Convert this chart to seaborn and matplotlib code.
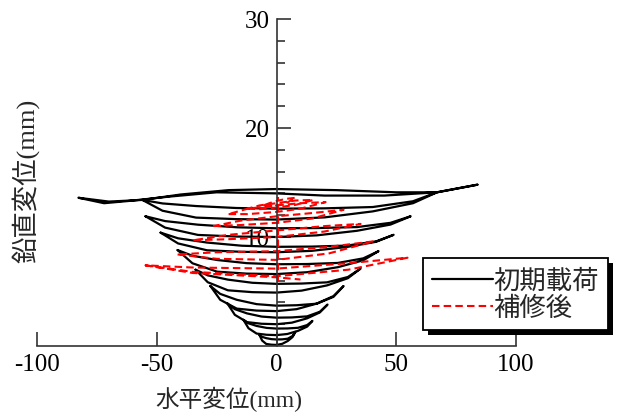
import pandas as pd
import matplotlib
matplotlib.use("Agg")
import matplotlib.pyplot as plt
from matplotlib.lines import Line2D
from matplotlib.patches import Rectangle
from matplotlib.transforms import IdentityTransform
from matplotlib.ticker import FixedLocator
import seaborn as sns

series_names = ["初期載荷", "補修後"]

# 初期載荷: one closed loop per loading cycle (horizontal / vertical displacement, mm)
initial_x = [
    [-7.1, -6.0, -4.3, -2.1, 0, 2.4, 4.7, 6.7, 7.9, 6.7, 4.7, 2.4, 0, -2.1, -4.3, -6.0, -7.1],
    [-13.8, -11.7, -8.3, -4.1, 0, 4.5, 9.0, 12.8, 15.0, 12.8, 9.0, 4.5, 0, -4.1, -8.3, -11.7, -13.8],
    [-20.5, -17.4, -12.3, -6.2, 0, 6.4, 12.8, 18.1, 21.3, 18.1, 12.8, 6.4, 0, -6.2, -12.3, -17.4, -20.5],
    [-27.6, -23.5, -16.6, -8.3, 0, 8.4, 16.8, 23.8, 28.0, 23.8, 16.8, 8.4, 0, -8.3, -16.6, -23.5, -27.6],
    [-33.8, -28.7, -20.3, -10.1, 0, 10.5, 21.1, 29.8, 35.1, 29.8, 21.1, 10.5, 0, -10.1, -20.3, -28.7, -33.8],
    [-41.3, -35.1, -24.8, -12.4, 0, 12.8, 25.6, 36.2, 42.6, 36.2, 25.6, 12.8, 0, -12.4, -24.8, -35.1, -41.3],
    [-48.4, -41.1, -29.0, -14.5, 0, 14.7, 29.3, 41.6, 48.9, 41.6, 29.3, 14.7, 0, -14.5, -29.0, -41.1, -48.4],
    [-54.7, -46.5, -32.8, -16.4, 0, 16.8, 33.6, 47.6, 56.0, 47.6, 33.6, 16.8, 0, -16.4, -32.8, -46.5, -54.7],
    [-56.0, -47.6, -33.6, -16.8, 0, 20.1, 40.2, 57.0, 67.0, 57.0, 40.2, 20.1, 0, -16.8, -33.6, -47.6, -56.0],
    [-56.0, -40.0, -20.0, 0, 25.0, 50.0, 67.0, 83.9, 67.0, 45.0, 20.0, 0, -25.0,
     -45.0, -62.0, -72.0, -82.7, -70.0, -56.0],
]
initial_y = [
    [1.0, 0.5, 0.19, 0.12, 0.1, 0.2, 0.46, 0.82, 1.3, 0.92, 0.67, 0.61, 0.6, 0.63, 0.72, 0.84, 1.0],
    [2.4, 1.63, 1.14, 1.03, 1.0, 1.1, 1.39, 1.78, 2.3, 1.92, 1.67, 1.61, 1.6, 1.66, 1.84, 2.08, 2.4],
    [3.9, 2.86, 2.19, 2.04, 2.0, 2.14, 2.54, 3.08, 3.8, 3.14, 2.72, 2.62, 2.6, 2.7, 2.99, 3.38, 3.9],
    [5.5, 4.24, 3.43, 3.25, 3.2, 3.38, 3.89, 4.58, 5.5, 4.51, 3.88, 3.74, 3.7, 3.84, 4.24, 4.78, 5.5],
    [7.0, 5.85, 5.11, 4.94, 4.9, 5.08, 5.56, 6.22, 7.1, 6.33, 5.84, 5.73, 5.7, 5.8, 6.09, 6.48, 7.0],
    [8.8, 7.59, 6.82, 6.64, 6.6, 6.77, 7.23, 7.86, 8.7, 8.04, 7.62, 7.52, 7.5, 7.6, 7.89, 8.28, 8.8],
    [10.4, 9.41, 8.78, 8.64, 8.6, 8.73, 9.08, 9.56, 10.2, 9.6, 9.21, 9.12, 9.1, 9.2, 9.49, 9.88, 10.4],
    [11.9, 10.86, 10.19, 10.04, 10.0, 10.15, 10.57, 11.14, 11.9, 11.3, 10.91, 10.82, 10.8, 10.89, 11.13, 11.46, 11.9],
    [13.4, 12.41, 11.78, 11.64, 11.6, 11.8, 12.35, 13.1, 14.1, 13.28, 12.75, 12.63, 12.6, 12.66, 12.84, 13.08, 13.4],
    [13.4, 13.9, 14.3, 14.4, 14.3, 14.1, 14.1, 14.8, 14.1, 13.8, 13.8, 14.0, 14.1,
     13.7, 13.3, 13.1, 13.6, 13.25, 13.4],
]

# 補修後: loops after repair, smallest first, plus the vertical leg at the centre
repair_x = [
    [0.5, 0.5],
    [-5.4, -3.0, 0, 4.0, 8.0, 4.0, 0, -3.0, -5.4],
    [-12.1, -7.0, 0, 8.0, 15.4, 8.0, 0, -7.0, -12.1],
    [-20.0, -12.0, 0, 10.0, 20.5, 10.0, 0, -12.0, -20.0],
    [-26.3, -15.0, 0, 15.0, 28.0, 15.0, 0, -15.0, -26.3],
    [-34.7, -20.0, 0, 20.0, 35.1, 20.0, 0, -20.0, -34.7],
    [-41.3, -25.0, 0, 22.0, 40.5, 22.0, 0, -25.0, -41.3],
    [-54.7, -35.0, 0, 30.0, 54.7, 30.0, 0, -35.0, -54.7, -35.0, 0, 10.0],
]
repair_y = [
    [5.9, 13.7],
    [12.9, 12.8, 12.9, 13.1, 13.6, 13.5, 13.3, 13.1, 12.9],
    [12.6, 12.55, 12.7, 12.95, 13.4, 13.35, 13.1, 12.9, 12.6],
    [12.1, 12.1, 12.3, 12.6, 13.2, 13.1, 12.9, 12.6, 12.1],
    [11.0, 11.1, 11.3, 11.7, 12.5, 12.2, 11.9, 11.5, 11.0],
    [9.7, 9.8, 10.0, 10.5, 11.2, 11.0, 10.6, 10.2, 9.7],
    [8.4, 8.0, 7.9, 8.5, 9.6, 9.1, 8.7, 8.6, 8.4],
    [7.4, 6.8, 6.4, 7.0, 8.1, 7.6, 7.1, 7.2, 7.4, 6.7, 6.3, 6.1],
]

x_ticks = [-100, -50, 0, 50, 100]
y_ticks = [10, 20, 30]


def to_frame(xs, ys):
    rows = []
    for cyc, (cx, cy) in enumerate(zip(xs, ys)):
        for px, py in zip(cx, cy):
            rows.append({"x": px, "y": py, "cycle": cyc})
    return pd.DataFrame(rows)


df_initial = to_frame(initial_x, initial_y)
df_repair = to_frame(repair_x, repair_y)

sns.set_theme(style="ticks")
plt.rcParams["font.family"] = ["Liberation Serif", "Noto Sans CJK JP"]
plt.rcParams["axes.unicode_minus"] = False

W, H = 627, 414
fig = plt.figure(figsize=(W / 100, H / 100), dpi=100)
ax = fig.add_axes([37 / W, 1 - 347 / H, (516 - 37) / W, (347 - 20) / H])

sns.lineplot(data=df_initial, x="x", y="y", units="cycle", estimator=None,
             sort=False, color="black", linewidth=1.6, ax=ax, legend=False)
sns.lineplot(data=df_repair, x="x", y="y", units="cycle", estimator=None,
             sort=False, color="#ff0000", linewidth=1.5,
             linestyle=(0, (3.6, 2.0)), ax=ax, legend=False)

ax.set_xlim(-100, 100)
ax.set_ylim(0, 30)
ax.set_xlabel("")
ax.set_ylabel("")

axis_gray = "#333333"
ax.spines["left"].set_position(("data", 0))
for side in ("top", "right"):
    ax.spines[side].set_visible(False)
for side in ("left", "bottom"):
    ax.spines[side].set_color(axis_gray)
    ax.spines[side].set_linewidth(1.2)

ax.set_xticks(x_ticks)
ax.set_xticklabels([str(v) for v in x_ticks])
ax.set_yticks(y_ticks)
ax.set_yticklabels([str(v) for v in y_ticks])
ax.yaxis.set_minor_locator(FixedLocator([v for v in range(2, 30, 2) if v % 10]))
ax.tick_params(axis="both", which="major", direction="in", length=10, width=1.2,
               color=axis_gray, labelsize=18, labelcolor="black", pad=5)
ax.tick_params(axis="y", which="minor", direction="in", length=6, width=1.2,
               color=axis_gray)

label_family = ["Liberation Serif", "Noto Sans CJK JP"]
fig.text(229 / W, 1 - 399 / H, "水平変位(mm)", ha="center", va="center",
         fontsize=17, family=label_family)
fig.text(25 / W, 1 - 181 / H, "鉛直変位(mm)", ha="center", va="center",
         rotation=90, fontsize=19, family=label_family)

handles = [
    Line2D([], [], color="black", linewidth=1.6),
    Line2D([], [], color="#ff0000", linewidth=1.5, linestyle=(0, (3.6, 2.0))),
]
leg = ax.legend(handles, series_names, loc="upper left",
                bbox_to_anchor=(423 / W, 1 - 259 / H), bbox_transform=fig.transFigure,
                borderaxespad=0, frameon=True, fancybox=False, framealpha=1,
                edgecolor="black", facecolor="white", handlelength=2.3,
                handletextpad=0.0, labelspacing=0.0, borderpad=0.35,
                prop={"family": "Noto Sans CJK JP", "size": 19})
leg.get_frame().set_linewidth(1.3)
leg.set_zorder(6)

fig.canvas.draw()
bb = leg.get_window_extent()
shadow = Rectangle((bb.x0 + 5, bb.y0 - 5), bb.width, bb.height,
                   transform=IdentityTransform(), facecolor="black",
                   edgecolor="none", zorder=5.5, clip_on=False)
ax.add_artist(shadow)

fig.savefig("out.png", dpi=100)
